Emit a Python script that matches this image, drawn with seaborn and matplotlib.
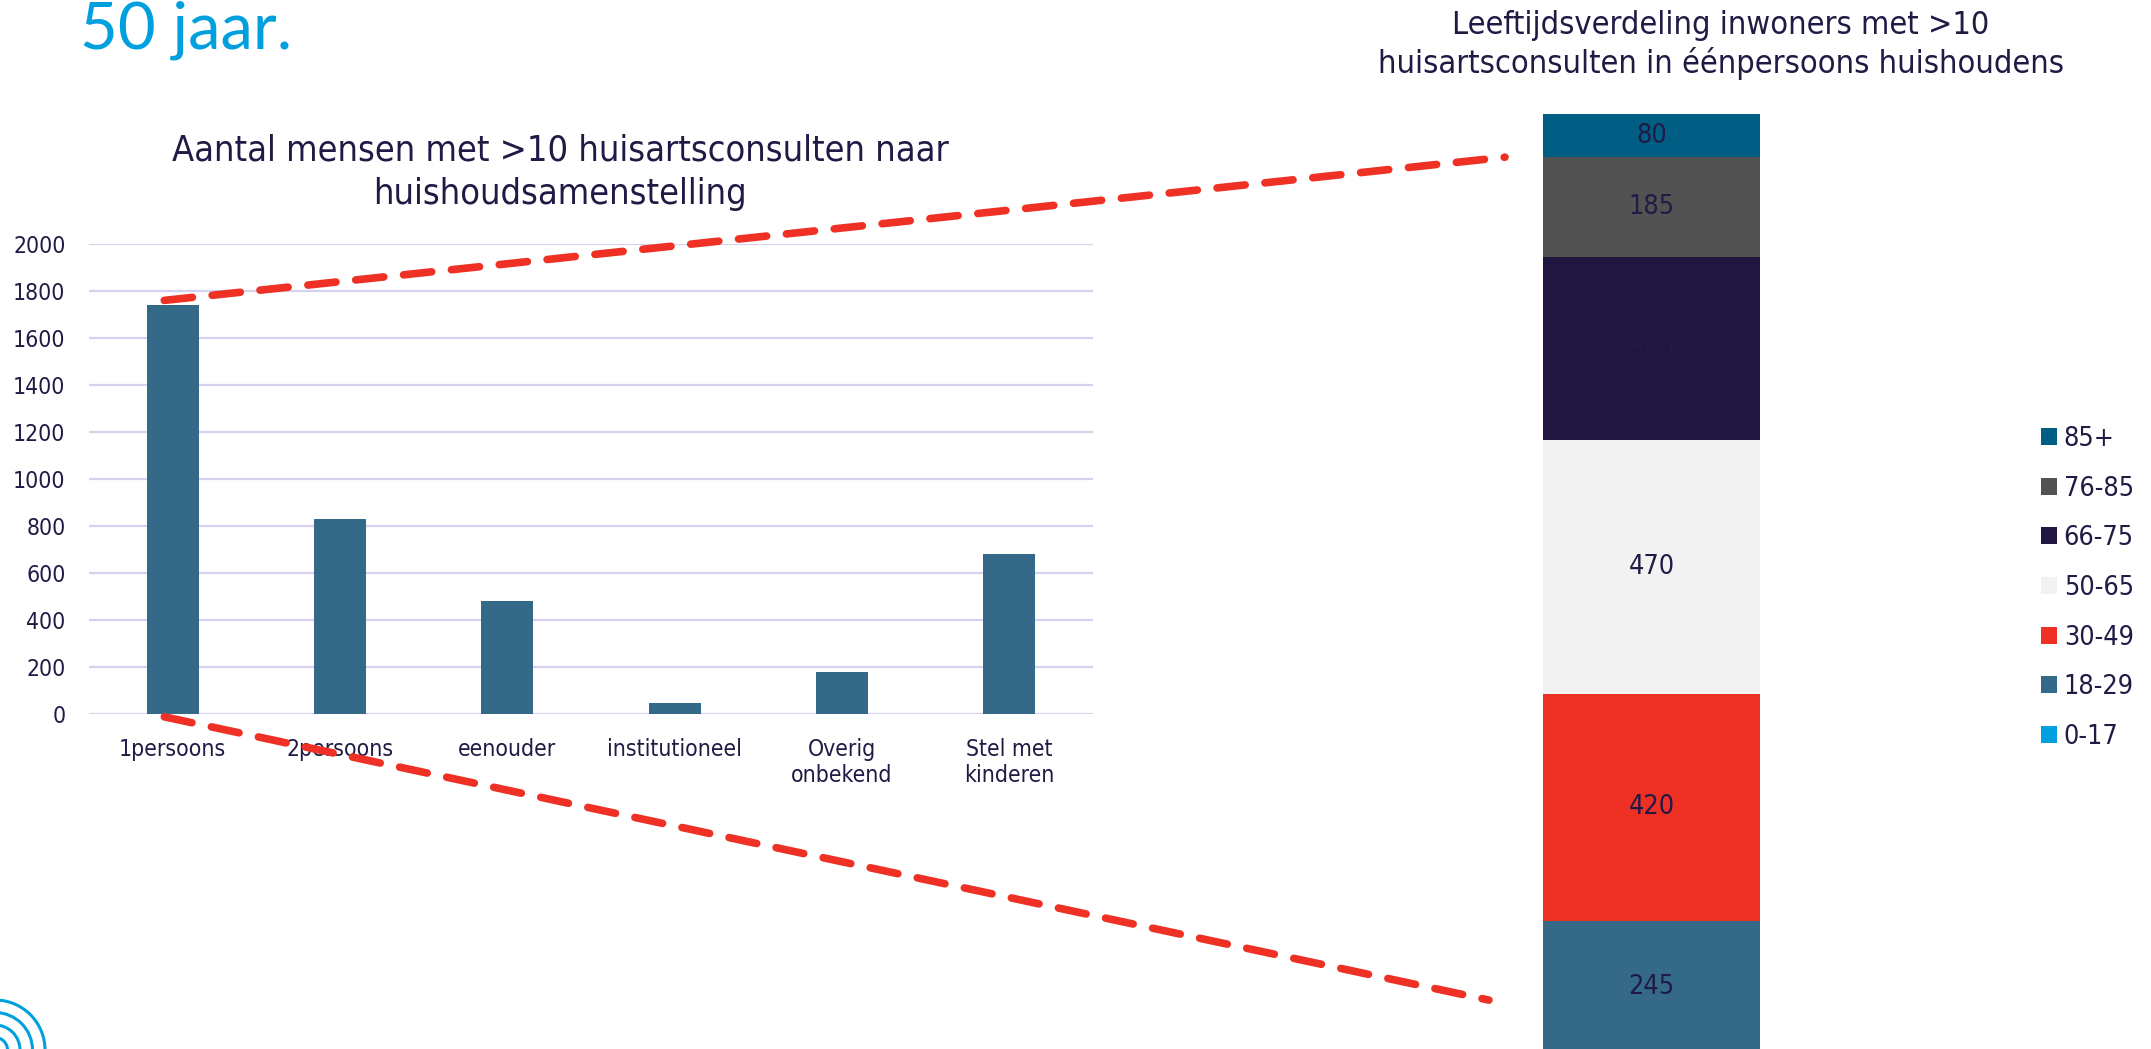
import matplotlib
matplotlib.use('Agg')
import matplotlib.pyplot as plt
from matplotlib import font_manager
from matplotlib.patches import Patch, Circle, ConnectionPatch
import pandas as pd
import seaborn as sns

# ------------------------------------------------------------
# Data
# ------------------------------------------------------------
households = ['1persoons', '2persoons', 'eenouder', 'institutioneel',
              'Overig\nonbekend', 'Stel met\nkinderen']
counts = [1740, 830, 482, 45, 180, 680]
y_ticks = list(range(0, 2001, 200))

age_groups = ['0-17', '18-29', '30-49', '50-65', '66-75', '76-85', '85+']
age_counts = [0, 245, 420, 470, 340, 185, 80]
age_colors = ['#009FDF', '#346A88', '#EE3124', '#F2F2F2', '#21163F', '#525252', '#005E85']

title_left = ['Aantal mensen met >10 huisartsconsulten naar', 'huishoudsamenstelling']
title_right = ['Leeftijdsverdeling inwoners met >10',
               'huisartsconsulten in éénpersoons huishoudens']

NAVY = '#201A45'
BAR = '#346A88'
GRID = '#D6D1EE'
RED = '#EE3124'
BLUE = '#00A0DF'

W, H = 2151, 1049

# ------------------------------------------------------------
# Fonts (Tahoma look-alike: condensed DejaVu if present)
# ------------------------------------------------------------
sns.set_style('white')
cond = [f.name for f in font_manager.fontManager.ttflist
        if f.name.startswith('DejaVu Sans') and 'Mono' not in f.name
        and f.stretch == 'condensed']
if cond:
    family, stretch, K = cond[0], 'condensed', 0.97
else:
    family, stretch, K = 'DejaVu Sans', 'normal', 0.87
plt.rcParams['font.family'] = [family, 'DejaVu Sans']
plt.rcParams['font.stretch'] = stretch

fig = plt.figure(figsize=(W / 100, H / 100), dpi=100)

# ------------------------------------------------------------
# Left: bar chart per household type
# ------------------------------------------------------------
ax1 = fig.add_axes([89 / W, 1 - 714 / H, (1093 - 89) / W, (714 - 244) / H])
df = pd.DataFrame({'huishouden': households, 'aantal': counts})
sns.barplot(data=df, x='huishouden', y='aantal', color=BAR, saturation=1,
            width=0.31, linewidth=0, ax=ax1)
ax1.set_xlim(-0.5, len(households) - 0.5)
ax1.set_ylim(0, 2000)
ax1.set_yticks(y_ticks)
ax1.set_xlabel('')
ax1.set_ylabel('')
ax1.grid(axis='y', color=GRID, lw=1.6)
ax1.set_axisbelow(True)
sns.despine(ax=ax1, left=True, bottom=True)
ax1.tick_params(axis='y', length=0, pad=17, labelsize=17 * K, labelcolor=NAVY)
ax1.tick_params(axis='x', length=0, pad=17, labelsize=17 * K, labelcolor=NAVY)

fig.text(560 / W, 1 - 160 / H, title_left[0], ha='center', va='baseline',
         fontsize=26.7 * K, color=NAVY)
fig.text(560 / W, 1 - 204 / H, title_left[1], ha='center', va='baseline',
         fontsize=26.7 * K, color=NAVY)

# ------------------------------------------------------------
# Right: stacked age distribution (layered cumulative bars)
# ------------------------------------------------------------
ax2 = fig.add_axes([1543 / W, 1 - 1053 / H, 217 / W, (1053 - 114) / H])
stack = pd.DataFrame({'leeftijd': age_groups, 'aantal': age_counts, 'kleur': age_colors})
stack['cum'] = stack['aantal'].cumsum()
for _, row in stack.iloc[::-1].iterrows():
    sns.barplot(x=[0], y=[row['cum']], color=row['kleur'], saturation=1,
                width=1, linewidth=0, ax=ax2)
for _, row in stack.iterrows():
    if row['aantal'] > 0:
        ax2.text(0, row['cum'] - row['aantal'] / 2, str(row['aantal']),
                 ha='center', va='center', fontsize=20 * K, color=NAVY)
ax2.set_xlim(-0.5, 0.5)
ax2.set_ylim(0, stack['cum'].iloc[-1])
ax2.axis('off')

fig.text(1721 / W, 1 - 34 / H, title_right[0], ha='center', va='baseline',
         fontsize=24 * K, color=NAVY)
fig.text(1721 / W, 1 - 73 / H, title_right[1], ha='center', va='baseline',
         fontsize=24 * K, color=NAVY)

hs = 16 / (20 * K * 100 / 72)
handles = [Patch(facecolor=c, edgecolor='none') for c in age_colors[::-1]]
fig.legend(handles, age_groups[::-1], loc='center left',
           bbox_to_anchor=(2041 / W, 1 - 588 / H), frameon=False,
           fontsize=20 * K, handlelength=hs, handleheight=hs, handletextpad=0.25,
           labelspacing=0.88, borderpad=0, borderaxespad=0, labelcolor=NAVY)

# ------------------------------------------------------------
# Zoom connectors
# ------------------------------------------------------------
for a, b in [((-0.05, 1760), (-0.675, 1660)), ((-0.05, -12), (-0.749, 98))]:
    con = ConnectionPatch(xyA=a, coordsA=ax1.transData,
                          xyB=b, coordsB=ax2.transData,
                          color=RED, lw=5.5, linestyle=(0, (3.7, 2.6)))
    fig.add_artist(con)

# ------------------------------------------------------------
# Slide decoration
# ------------------------------------------------------------
fig.text(80 / W, 1 - 48 / H, '50 jaar.', ha='left', va='baseline', fontsize=47,
         color=BLUE, family=['Lato', 'DejaVu Sans'], fontweight='normal',
         fontstretch='normal')
for r in [0.5, 0.375, 0.25, 0.125]:
    fig.add_artist(Circle((-0.05, -0.01), r, transform=fig.dpi_scale_trans,
                          fill=False, ec=BLUE, lw=2.2))

fig.savefig('out.png', dpi=100)
